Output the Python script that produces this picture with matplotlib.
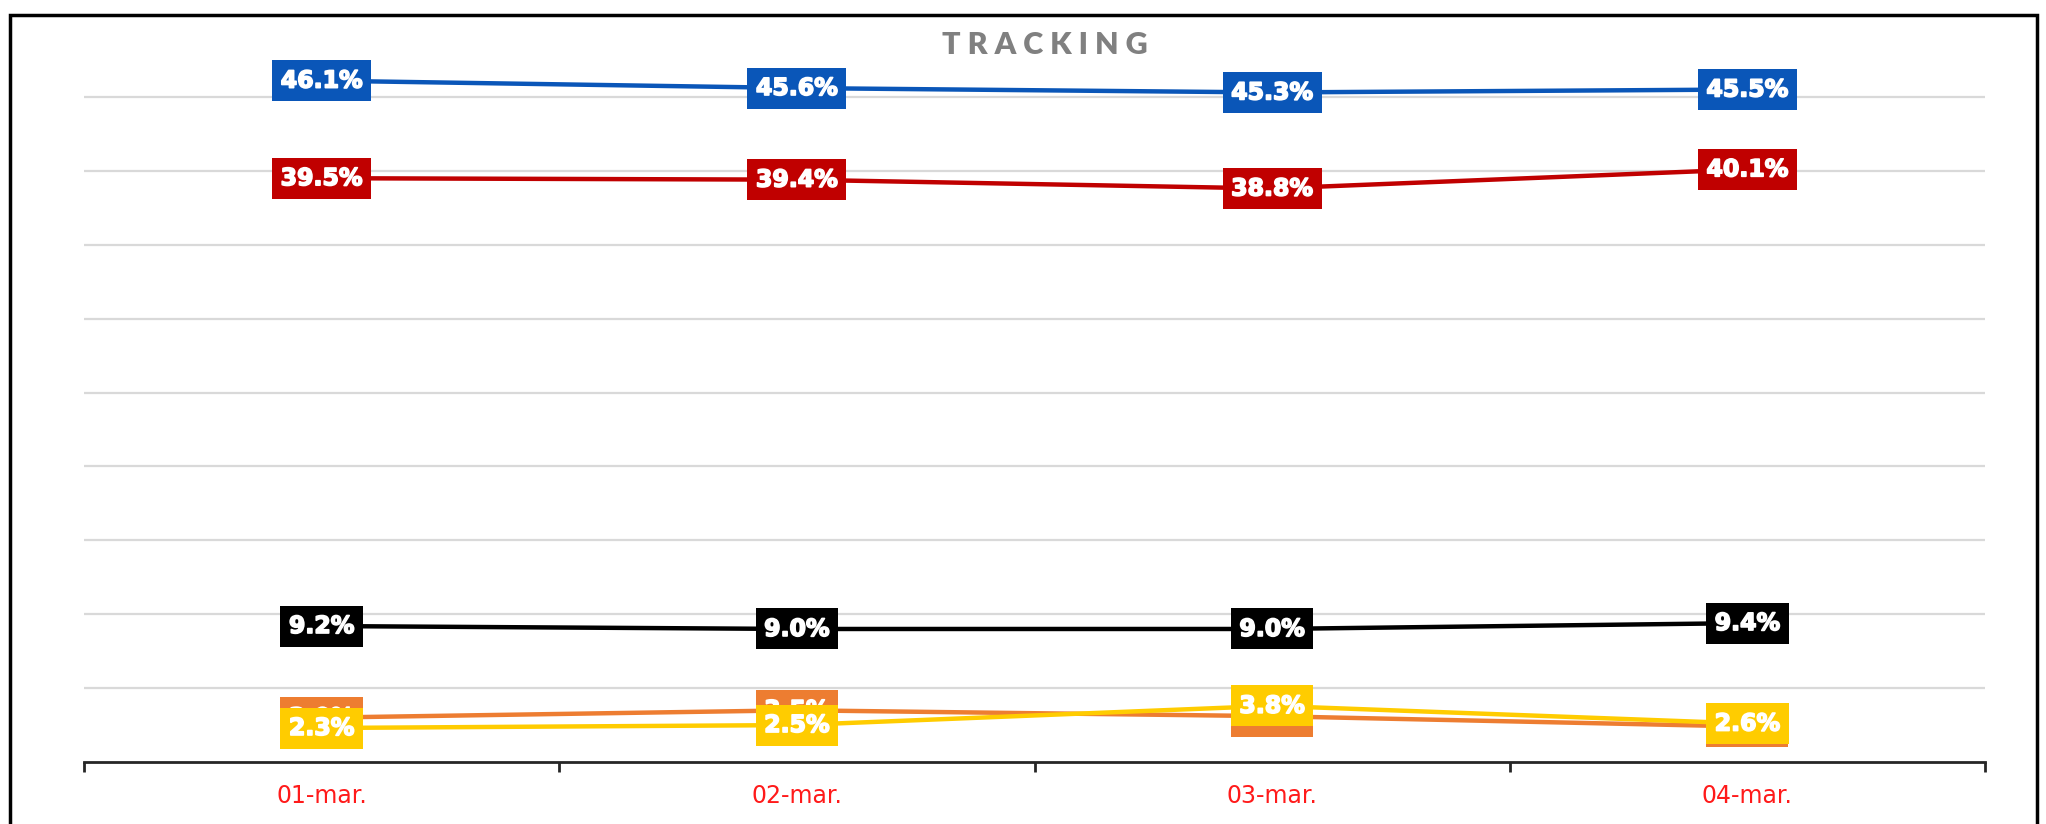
import numpy as np
import matplotlib.pyplot as plt
import matplotlib.patheffects as pe
from matplotlib.patches import Rectangle

# data
dates = ['01-mar.', '02-mar.', '03-mar.', '04-mar.']
blue = [46.1, 45.6, 45.3, 45.5]
red = [39.5, 39.4, 38.8, 40.1]
black = [9.2, 9.0, 9.0, 9.4]
orange = [3.0, 3.5, 3.1, 2.4]
yellow = [2.3, 2.5, 3.8, 2.6]

series = [(blue, '#0A56B8'), (red, '#C00000'), (black, '#000000'),
          (orange, '#ED7D31'), (yellow, '#FFCC00')]

fig = plt.figure(figsize=(20.46, 8.24), dpi=100)
ax = fig.add_axes([84 / 2046, 1 - 762 / 824, (1985 - 84) / 2046, 739 / 824])

x = np.arange(len(dates))
for z, (vals, col) in enumerate(series):
    ax.plot(x, vals, color=col, lw=3.2, zorder=3 + 2 * z, solid_capstyle='butt')
    for xi, v in zip(x, vals):
        ax.text(xi, v, '%.1f%%' % v, ha='center', va='center', color='white',
                fontsize=17, fontweight='bold', family='DejaVu Sans', zorder=4 + 2 * z,
                path_effects=[pe.withStroke(linewidth=1.2, foreground='white')],
                bbox=dict(boxstyle='square,pad=0.36', fc=col, ec='none'))

# axes styling
ax.set_xlim(-0.5, 3.5)
ax.set_ylim(0, 50)
ax.set_yticks(np.arange(5, 50, 5))
ax.yaxis.grid(True, color='#D9D9D9', lw=1.6)
ax.tick_params(axis='y', left=False, labelleft=False)
for s in ['top', 'right', 'left']:
    ax.spines[s].set_visible(False)
ax.spines['bottom'].set_color('#262626')
ax.spines['bottom'].set_linewidth(2)

ax.set_xticks(np.arange(-0.5, 4, 1))
ax.set_xticklabels([])
ax.set_xticks(x, minor=True)
ax.set_xticklabels(dates, minor=True, color='#FF1A1A', fontsize=17,
                   family='DejaVu Sans', fontweight='normal')
ax.tick_params(axis='x', which='major', length=7, width=2, color='#262626')
ax.tick_params(axis='x', which='minor', length=0, pad=16)

fig.text(1045 / 2046, 1 - 45 / 824, 'T R A C K I N G', ha='center', va='center',
         color='#808080', fontsize=22, fontweight='heavy', family='Lato')

# outer frame
fig.patches.append(Rectangle((10 / 2046, -0.1), 2027 / 2046, 1.1 - 15 / 824,
                             transform=fig.transFigure, fill=False, ec='black', lw=2.5))

fig.savefig('out.png', dpi=100)
